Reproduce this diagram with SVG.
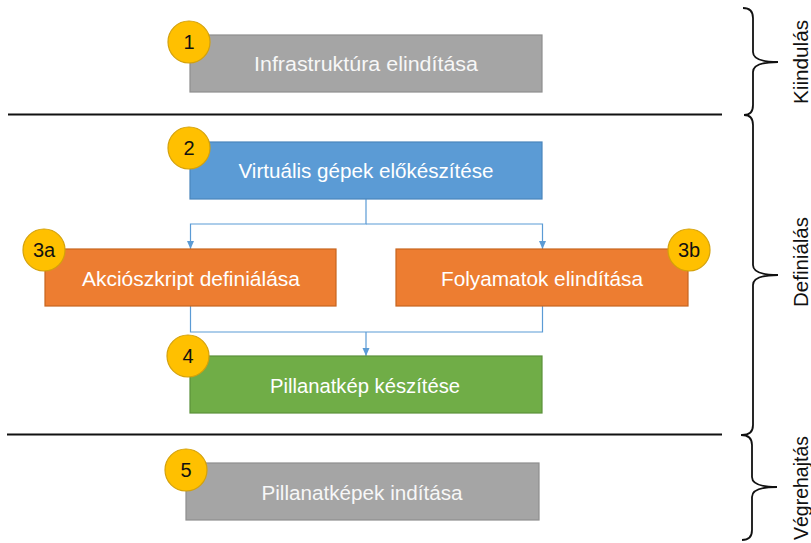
<svg xmlns="http://www.w3.org/2000/svg" width="811" height="543" viewBox="0 0 811 543">
<defs>
<style>
.box{stroke-width:1.2}
.gray{fill:#A5A5A5;stroke:#8E8E8E}
.blue{fill:#5B9BD5;stroke:#4A85BC}
.orange{fill:#ED7D31;stroke:#C7651F}
.green{fill:#70AD47;stroke:#5A913A}
.lbl{font-family:"Liberation Sans",Arial,sans-serif;font-size:20.5px;text-anchor:middle;fill:#FFFFFF}
.lblg{fill:#F7F7F7}
.badge{fill:#FFC000;stroke:#D4A10A;stroke-width:1.2}
.num{font-family:"Liberation Sans",Arial,sans-serif;font-size:20px;text-anchor:middle;fill:#111111}
.conn{fill:none;stroke:#5B9BD5;stroke-width:1.2}
.sep{stroke:#111;stroke-width:2}
.brace{fill:none;stroke:#111;stroke-width:1.8}
.side{font-family:"Liberation Sans",Arial,sans-serif;font-size:20px;text-anchor:middle;fill:#111}
</style>
<marker id="arr" markerUnits="userSpaceOnUse" markerWidth="8" markerHeight="8" viewBox="0 0 8 8" refX="8" refY="4" orient="auto">
<path d="M0,0.5 L8,4 L0,7.5 z" fill="#5B9BD5"/>
</marker>
</defs>

<g id="separators">
<line class="sep" x1="8" y1="114.5" x2="722" y2="114.5"/>
<line class="sep" x1="7" y1="434.5" x2="722" y2="434.5"/>
</g>

<g id="braces">
<path class="brace" d="M743,8 Q753,8 753,18 L753,52 Q753,62 778,62 Q753,62 753,72 L753,105 Q753,115 744,115"/>
<path class="brace" d="M744,115 Q753,115 753,125 L753,265 Q753,275 778,275 Q753,275 753,285 L753,425 Q753,435 742,435"/>
<path class="brace" d="M741,435 Q752,435 752,445 L752,477 Q752,487 777,487 Q752,487 752,497 L752,530 Q752,540 742,540"/>
</g>

<g id="phase-labels">
<text class="side" transform="translate(808,62) rotate(-90)" textLength="84" lengthAdjust="spacingAndGlyphs">Kiindulás</text>
<text class="side" transform="translate(808,262) rotate(-90)" textLength="90" lengthAdjust="spacingAndGlyphs">Definiálás</text>
<text class="side" transform="translate(808,488) rotate(-90)" textLength="104" lengthAdjust="spacingAndGlyphs">Végrehajtás</text>
</g>

<g id="connectors">
<path class="conn" d="M366,199 V224 H190.5 V249" marker-end="url(#arr)"/>
<path class="conn" d="M366,224 H542.5 V249" marker-end="url(#arr)"/>
<path class="conn" d="M190.5,306 V332 H542.5 V306"/>
<path class="conn" d="M366,332 V356" marker-end="url(#arr)"/>
</g>

<g id="node1">
<rect class="box gray" x="190" y="35" width="352" height="57"/>
<text class="lbl lblg" x="366" y="71" textLength="224" lengthAdjust="spacingAndGlyphs">Infrastruktúra elindítása</text>
<circle class="badge" cx="189" cy="42" r="21"/>
<text class="num" x="189" y="49">1</text>
</g>

<g id="node2">
<rect class="box blue" x="190" y="142" width="352" height="57"/>
<text class="lbl" x="366" y="178" textLength="255" lengthAdjust="spacingAndGlyphs">Virtuális gépek előkészítése</text>
<circle class="badge" cx="189" cy="148" r="21"/>
<text class="num" x="189" y="155">2</text>
</g>

<g id="node3a">
<rect class="box orange" x="45" y="249" width="291" height="57"/>
<text class="lbl" x="191" y="286" textLength="218" lengthAdjust="spacingAndGlyphs">Akciószkript definiálása</text>
<circle class="badge" cx="44" cy="250" r="21"/>
<text class="num" x="44" y="257">3a</text>
</g>

<g id="node3b">
<rect class="box orange" x="396" y="249" width="292" height="57"/>
<text class="lbl" x="542" y="286" textLength="202" lengthAdjust="spacingAndGlyphs">Folyamatok elindítása</text>
<circle class="badge" cx="689" cy="250" r="21"/>
<text class="num" x="689" y="257">3b</text>
</g>

<g id="node4">
<rect class="box green" x="190" y="356" width="352" height="57"/>
<text class="lbl" x="365" y="393" textLength="190" lengthAdjust="spacingAndGlyphs">Pillanatkép készítése</text>
<circle class="badge" cx="188" cy="356" r="21"/>
<text class="num" x="188" y="363">4</text>
</g>

<g id="node5">
<rect class="box gray" x="186" y="463" width="353" height="57"/>
<text class="lbl lblg" x="362" y="500" textLength="201" lengthAdjust="spacingAndGlyphs">Pillanatképek indítása</text>
<circle class="badge" cx="186" cy="470" r="21"/>
<text class="num" x="186" y="477">5</text>
</g>
</svg>
